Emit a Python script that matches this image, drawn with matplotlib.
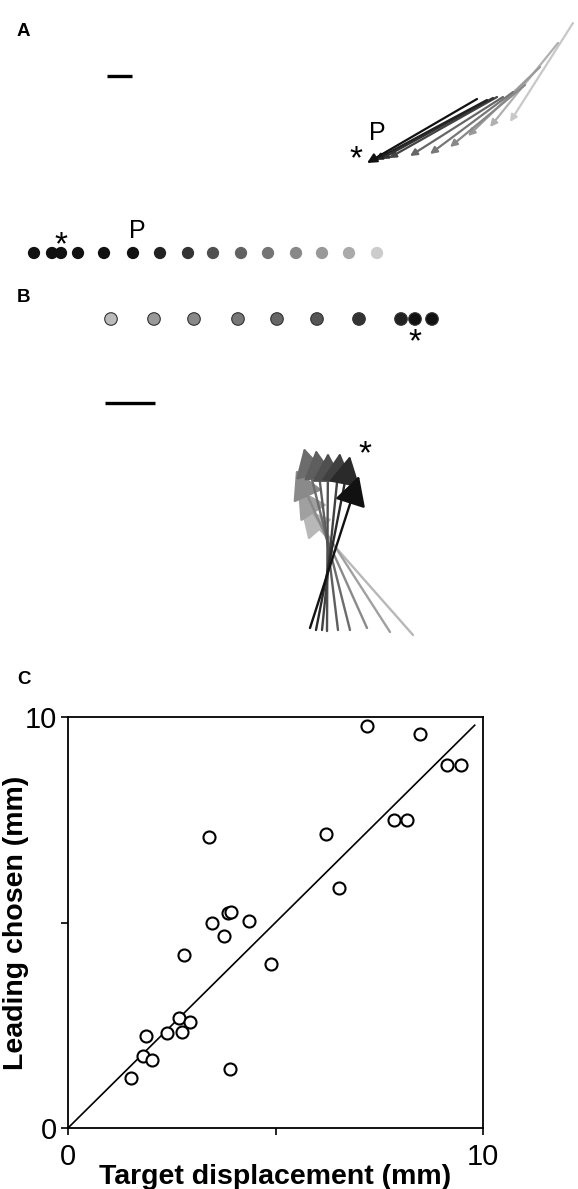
import matplotlib
matplotlib.use('Agg')
from matplotlib import pyplot as plt

plt.rcParams['font.family'] = ['Liberation Sans', 'DejaVu Sans']

# PANEL A DATA (schematic units, y grows downwards)
a_arrow_start_x = [477, 487, 493, 497, 503, 513, 525, 540, 558, 573]
a_arrow_start_y = [99, 100, 98, 97, 97, 92, 85, 67, 43, 23]
a_arrow_tip_x = [367, 375, 381, 389, 410, 430, 450, 468, 490, 510]
a_arrow_tip_y = [163, 160, 159, 158, 156, 154, 147, 136, 127, 122]
a_arrow_grey = ['#111111', '#222222', '#333333', '#444444', '#666666',
                '#777777', '#888888', '#999999', '#b0b0b0', '#c8c8c8']

a_dot_x = [34, 52, 61, 78, 104, 133, 160, 188, 213, 241, 268, 296, 322, 349, 377]
a_dot_grey = ['#111111', '#111111', '#111111', '#111111', '#111111', '#111111',
              '#222222', '#333333', '#505050', '#626262', '#747474', '#888888',
              '#999999', '#aaaaaa', '#cccccc']

# PANEL B DATA
b_dot_x = [111, 154, 194, 238, 277, 317, 359, 401, 415, 432]
b_dot_grey = ['#bbbbbb', '#999999', '#888888', '#777777', '#666666',
              '#555555', '#333333', '#222222', '#111111', '#111111']

b_arrow_start_x = [310, 316, 322, 327, 338, 350, 367, 390, 413]
b_arrow_start_y = [628, 630, 630, 631, 630, 630, 628, 632, 635]
b_arrow_tip_x = [359, 350, 340, 328, 316, 304, 296, 298, 301]
b_arrow_tip_y = [476, 456, 453, 453, 450, 448, 470, 489, 508]
b_arrow_grey = ['#111111', '#2a2a2a', '#404040', '#505050', '#5e5e5e',
                '#6c6c6c', '#8a8a8a', '#a0a0a0', '#b8b8b8']

# PANEL C DATA
target_disp = [1.51, 1.80, 2.03, 1.88, 2.38, 2.68, 2.74, 2.93, 2.80, 3.39, 3.48, 3.75,
               3.86, 3.92, 3.91, 4.36, 4.88, 6.21, 6.54, 7.20, 7.85, 8.17, 8.48, 9.13, 9.46]
leading_chosen = [1.22, 1.74, 1.65, 2.24, 2.31, 2.68, 2.33, 2.59, 4.22, 7.07, 5.00, 4.68,
                  5.22, 5.25, 1.44, 5.04, 3.98, 7.16, 5.85, 9.78, 7.49, 7.49, 9.58, 8.82, 8.82]
unity_line = [0, 9.8]

fig = plt.figure(figsize=(5.78, 11.89), dpi=100)

# SCHEMATIC PANELS A AND B
ax_s = fig.add_axes([0, 1 - 650 / 1189, 1, 650 / 1189])
ax_s.set_xlim(0, 578)
ax_s.set_ylim(650, 0)
ax_s.axis('off')

# scale bars
ax_s.plot([107, 132], [76, 76], color='black', lw=2.4, solid_capstyle='butt')
ax_s.plot([105, 155], [403, 403], color='black', lw=2.4, solid_capstyle='butt')

# panel A arrows (light ones first so dark ones sit on top)
for i in reversed(range(len(a_arrow_tip_x))):
    big = i == 0
    ax_s.annotate('', xy=(a_arrow_tip_x[i], a_arrow_tip_y[i]),
                  xytext=(a_arrow_start_x[i], a_arrow_start_y[i]),
                  arrowprops=dict(arrowstyle='-|>', color=a_arrow_grey[i], lw=1.6,
                                  mutation_scale=14 if big else 10,
                                  shrinkA=0, shrinkB=0))
ax_s.text(377, 133, 'P', fontsize=18, ha='center', va='center')
ax_s.text(356, 160, '*', fontsize=24, ha='center', va='center')

# panel A dots
ax_s.scatter(a_dot_x, [253] * len(a_dot_x), s=78, c=a_dot_grey, edgecolors='none', zorder=3)
ax_s.text(61, 246, '*', fontsize=24, ha='center', va='center')
ax_s.text(137, 231, 'P', fontsize=18, ha='center', va='center')

# panel B dots
ax_s.scatter(b_dot_x, [319] * len(b_dot_x), s=82, c=b_dot_grey, edgecolors='#333333',
             linewidths=0.8, zorder=3)
ax_s.text(415, 343, '*', fontsize=24, ha='center', va='center')

# panel B arrows
for i in reversed(range(len(b_arrow_tip_x))):
    ax_s.annotate('', xy=(b_arrow_tip_x[i], b_arrow_tip_y[i]),
                  xytext=(b_arrow_start_x[i], b_arrow_start_y[i]),
                  arrowprops=dict(arrowstyle='-|>,head_length=0.7,head_width=0.38',
                                  color=b_arrow_grey[i], lw=1.7,
                                  mutation_scale=26, shrinkA=0, shrinkB=0))
ax_s.text(365, 455, '*', fontsize=24, ha='center', va='center')

# PANEL C
ax = fig.add_axes([68 / 578, 61 / 1189, 415 / 578, 411 / 1189])
ax.plot(unity_line, unity_line, color='black', lw=1.2)
ax.scatter(target_disp, leading_chosen, s=75, facecolors='white', edgecolors='black',
           linewidths=1.5, zorder=3)
ax.set_xlim(0, 10)
ax.set_ylim(0, 10)
ax.set_xticks([0, 5, 10])
ax.set_xticklabels(['0', '', '10'])
ax.set_yticks([0, 5, 10])
ax.set_yticklabels(['0', '', '10'])
ax.tick_params(direction='out', length=5, width=1.2, labelsize=21, pad=3)
ax.tick_params(axis='x', pad=6)
for sp in ax.spines.values():
    sp.set_linewidth(1.3)
ax.set_xlabel('Target displacement (mm)', fontsize=20.5, fontweight='bold', labelpad=-5)
ax.set_ylabel('Leading chosen (mm)', fontsize=20.5, fontweight='bold', labelpad=-3)

# panel letters
fig.text(17 / 578, 1 - 31 / 1189, 'A', fontsize=13.5, fontweight='bold', va='center')
fig.text(17 / 578, 1 - 297 / 1189, 'B', fontsize=13.5, fontweight='bold', va='center')
fig.text(17 / 578, 1 - 680 / 1189, 'C', fontsize=13.5, fontweight='bold', va='center')

fig.savefig('out.png', dpi=100)
